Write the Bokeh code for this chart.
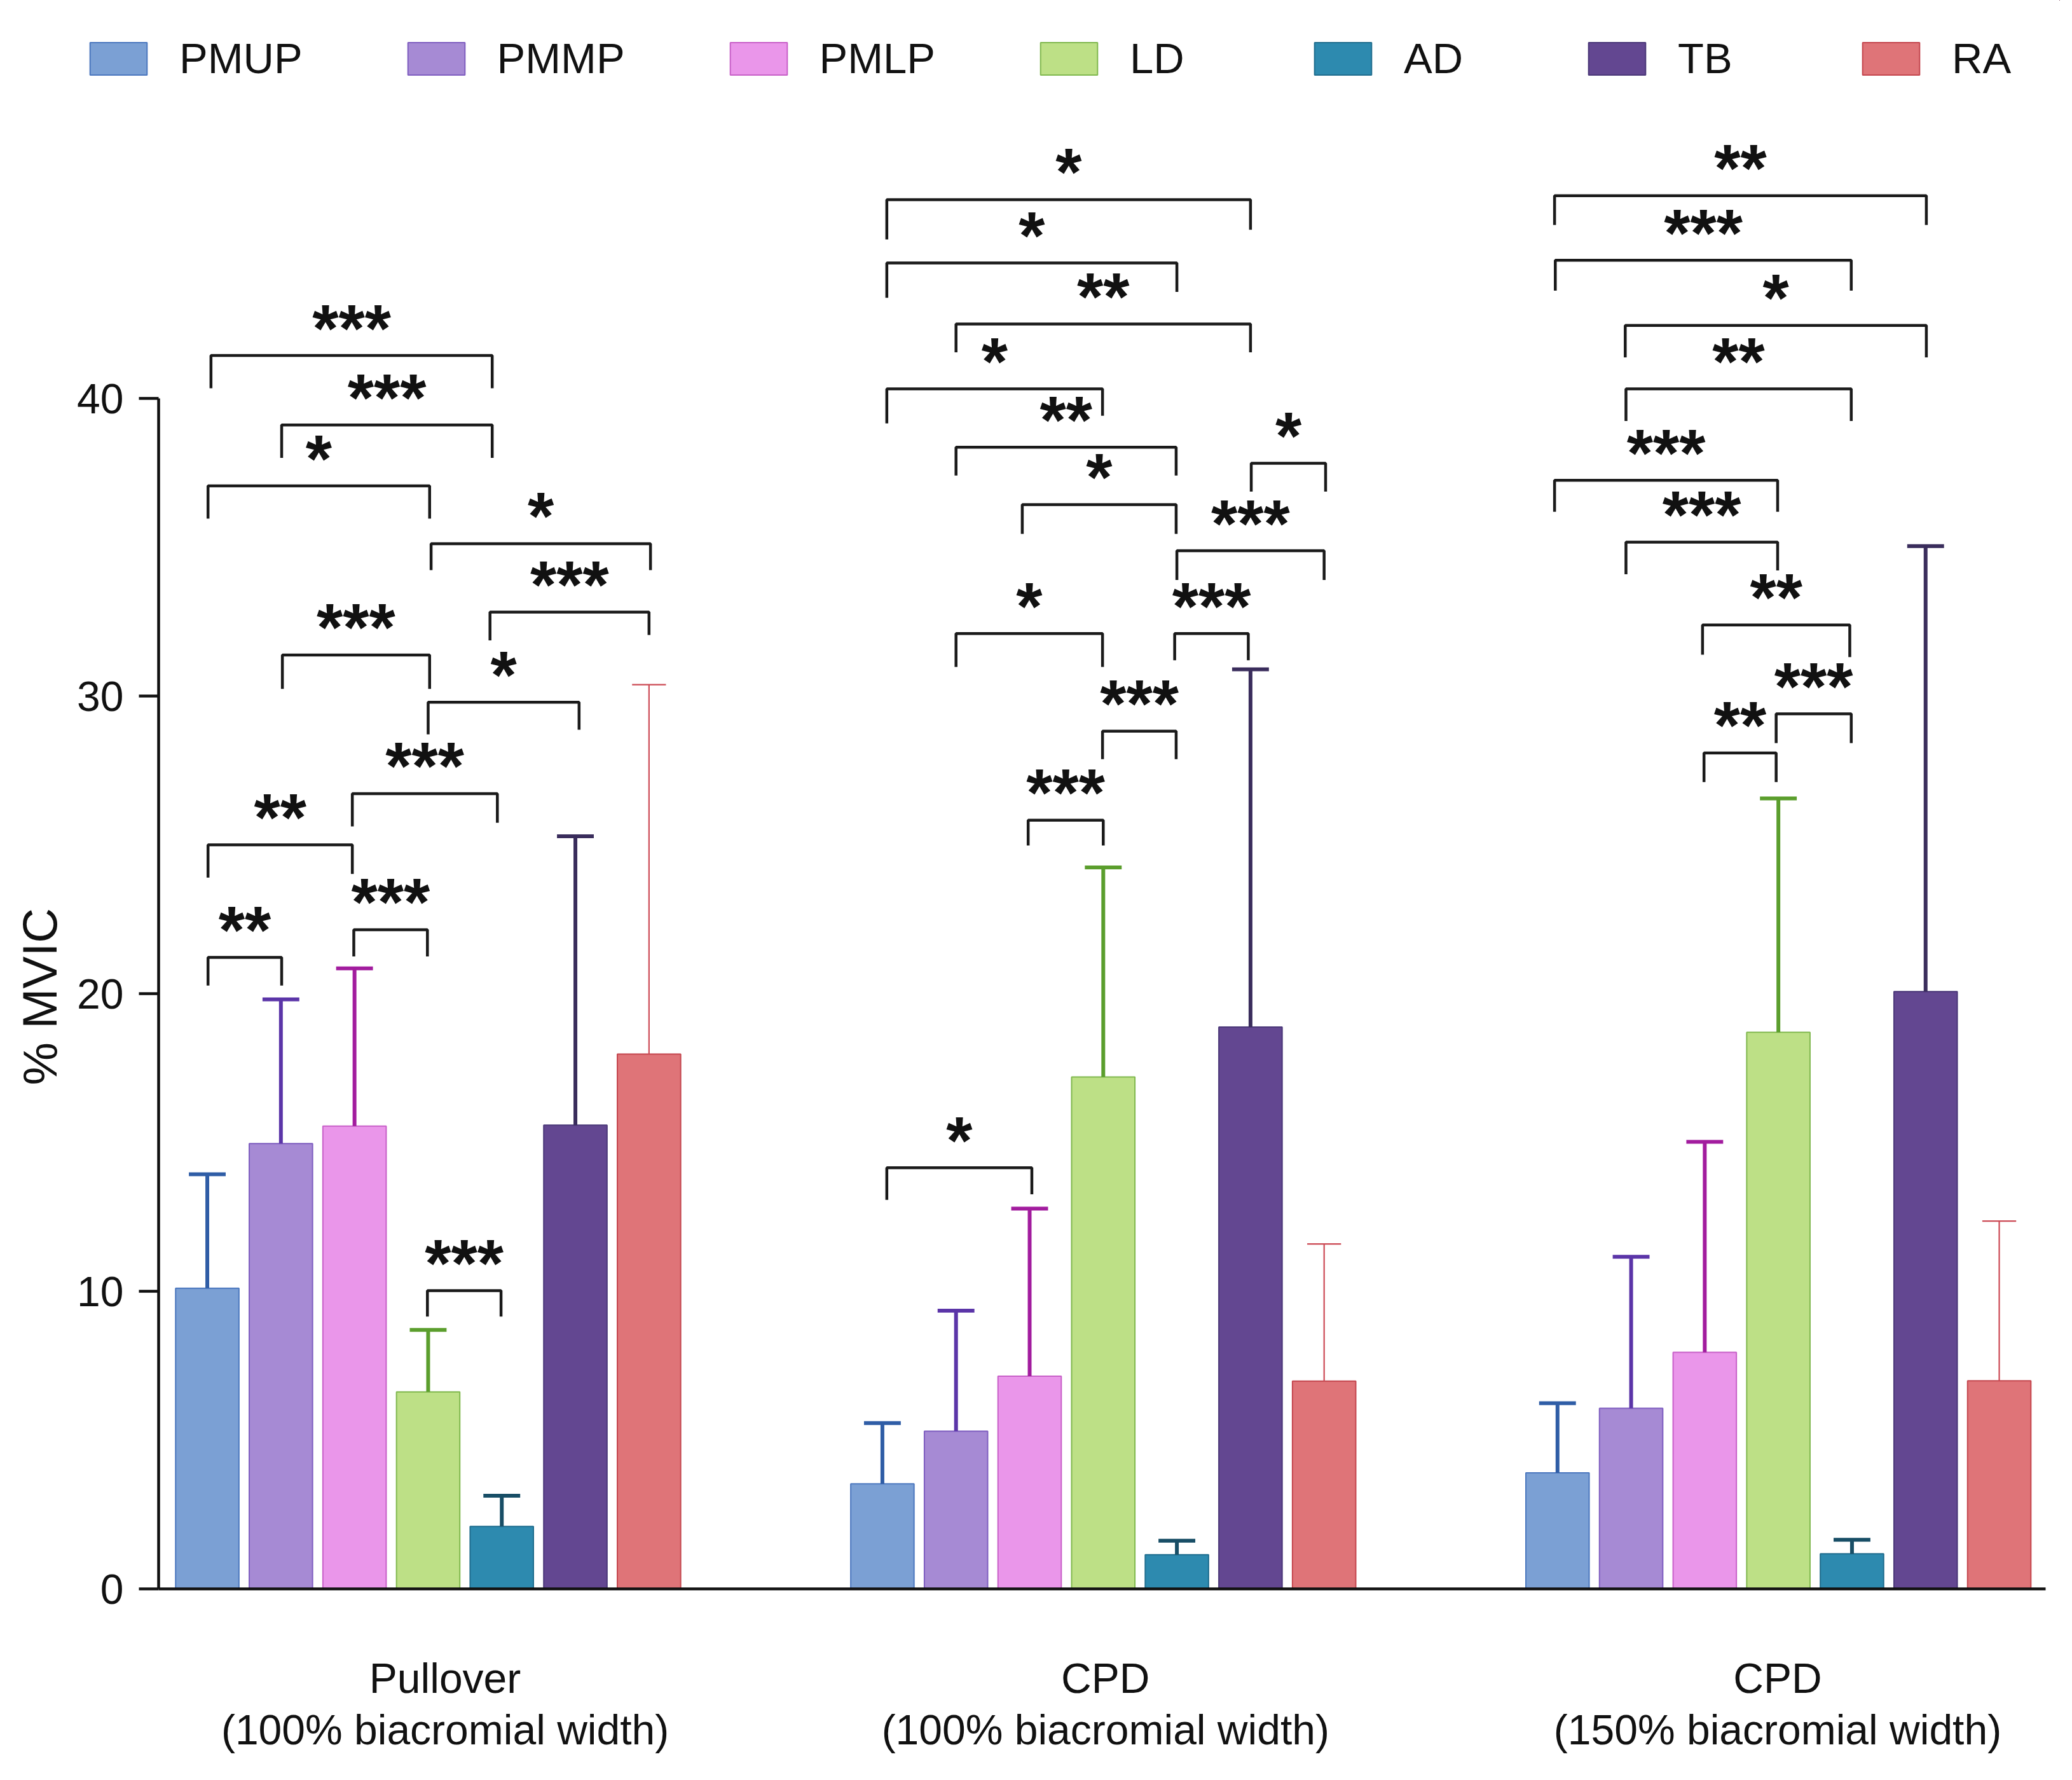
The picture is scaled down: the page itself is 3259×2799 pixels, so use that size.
from bokeh.plotting import figure
from bokeh.models import (Range1d, FixedTicker, Legend, LegendItem, ColumnDataSource,
                          LinearAxis, LabelSet, Title)
from bokeh.embed import file_html
from bokeh.resources import INLINE

# ---------------- data ----------------
muscles = ["PMUP", "PMMP", "PMLP", "LD", "AD", "TB", "RA"]
condition_names = ["Pullover", "CPD", "CPD"]
condition_widths = ["(100% biacromial width)", "(100% biacromial width)", "(150% biacromial width)"]

# mean %MVIC per muscle, one list per condition
mean_pullover = [10.10, 14.96, 15.55, 6.62, 2.10, 15.58, 17.97]
mean_cpd100 = [3.53, 5.30, 7.15, 17.20, 1.15, 18.88, 6.98]
mean_cpd150 = [3.90, 6.07, 7.95, 18.70, 1.18, 20.07, 6.99]

# standard deviation (upper error bar)
sd_pullover = [3.83, 4.85, 5.30, 2.08, 1.03, 9.71, 12.41]
sd_cpd100 = [2.04, 4.05, 5.63, 7.04, 0.47, 12.02, 4.61]
sd_cpd150 = [2.34, 5.09, 7.07, 7.86, 0.47, 14.97, 5.37]

# significance brackets: (left bar, right bar, level, left leg end, right leg end, stars)
# bar positions are indices 0..6 inside each condition
brackets_pullover = [
    (0.05, 3.87, 41.44, 40.34, 40.34, "***"),
    (1.01, 3.87, 39.11, 38.00, 38.00, "***"),
    (0.01, 3.02, 37.06, 35.96, 35.96, "*"),
    (3.04, 6.02, 35.12, 34.23, 34.23, "*"),
    (3.84, 6.00, 32.82, 31.87, 32.05, "***"),
    (1.02, 3.02, 31.38, 30.24, 30.24, "***"),
    (3.00, 5.05, 29.79, 28.71, 28.87, "*"),
    (1.97, 3.94, 26.72, 25.62, 25.74, "***"),
    (0.01, 1.97, 25.00, 23.90, 24.02, "**"),
    (1.99, 2.99, 22.15, 21.25, 21.25, "***"),
    (0.01, 1.01, 21.22, 20.27, 20.27, "**"),
    (2.99, 3.99, 10.02, 9.15, 9.15, "***"),
]
brackets_cpd100 = [
    (0.06, 5.00, 46.68, 45.34, 45.67, "*"),
    (0.06, 4.00, 44.55, 43.38, 43.58, "*"),
    (1.00, 5.00, 42.50, 41.55, 41.55, "**"),
    (0.06, 2.99, 40.32, 39.16, 39.42, "*"),
    (1.00, 3.99, 38.36, 37.41, 37.41, "**"),
    (1.90, 3.99, 36.43, 35.45, 35.45, "*"),
    (5.01, 6.02, 37.82, 36.87, 36.87, "*"),
    (4.00, 6.00, 34.88, 33.90, 33.90, "***"),
    (1.00, 2.99, 32.10, 30.98, 30.98, "*"),
    (3.97, 4.97, 32.10, 31.20, 31.20, "***"),
    (2.99, 3.99, 28.82, 27.88, 27.88, "***"),
    (1.98, 3.00, 25.83, 24.98, 24.98, "***"),
    (0.06, 2.03, 14.15, 13.07, 13.26, "*"),
]
brackets_cpd150 = [
    (-0.04, 5.01, 46.81, 45.83, 45.83, "**"),
    (-0.03, 3.99, 44.64, 43.62, 43.62, "***"),
    (0.92, 5.01, 42.45, 41.38, 41.38, "*"),
    (0.93, 3.99, 40.32, 39.24, 39.24, "**"),
    (-0.04, 2.99, 37.25, 36.19, 36.19, "***"),
    (0.93, 2.99, 35.17, 34.09, 34.22, "***"),
    (1.97, 3.97, 32.39, 31.39, 31.31, "**"),
    (2.97, 3.99, 29.40, 28.42, 28.42, "***"),
    (1.99, 2.97, 28.09, 27.11, 27.11, "**"),
]

y_ticks = [0, 10, 20, 30, 40]

# ---------------- styling ----------------
fills = ["#7BA0D4", "#A68AD4", "#EA96EA", "#BDE086", "#2D8AAF", "#634791", "#DF7478"]
edges = ["#4B77BE", "#7F5EC0", "#C860C8", "#80B84E", "#1F6D8E", "#4A3778", "#C4464E"]
errc = ["#2F5DA6", "#5B35A8", "#A21C9E", "#5B9E2D", "#184E66", "#3A2D5C", "#CC4A55"]
errw = [6, 6, 6, 6, 6, 6, 2.2]
caph = [0.25, 0.25, 0.25, 0.25, 0.25, 0.25, 0.23]
GROUP_STEP = 9.17
BAR_W = 0.86

means = [mean_pullover, mean_cpd100, mean_cpd150]
sds = [sd_pullover, sd_cpd100, sd_cpd150]
brackets = [brackets_pullover, brackets_cpd100, brackets_cpd150]

# one data source per muscle (shared by the chart and the legend strip)
sources = []
for i, m in enumerate(muscles):
    xs = [g * GROUP_STEP + i for g in range(3)]
    tops = [means[g][i] for g in range(3)]
    ups = [means[g][i] + sds[g][i] for g in range(3)]
    sources.append(ColumnDataSource(dict(x=xs, top=tops, up=ups,
                                         xl=[x - caph[i] for x in xs],
                                         xr=[x + caph[i] for x in xs])))

# ---------------- legend strip (top) ----------------
# its ranges lie far away from the data, so the bars themselves stay out of view here
lf = figure(width=3240, height=150, output_backend="svg", toolbar_location=None,
            x_range=Range1d(-1001, -1000), y_range=Range1d(-1001, -1000),
            x_axis_type=None, y_axis_type=None,
            min_border_left=0, min_border_right=0, min_border_top=0, min_border_bottom=0)
lf.outline_line_color = None
lf.background_fill_color = "white"
lf.border_fill_color = "white"

legend_items = []
for i, m in enumerate(muscles):
    key = lf.vbar(x="x", top="top", bottom=0, width=BAR_W, source=sources[i],
                  fill_color=fills[i], line_color=edges[i], line_width=2)
    legend_items.append(LegendItem(label=m, renderers=[key]))

legend = Legend(items=legend_items, orientation="horizontal", location=(130, 20),
                glyph_width=112, glyph_height=64, label_standoff=40, label_width=125,
                spacing=154, padding=0, margin=0, border_line_color=None,
                background_fill_alpha=0,
                label_text_font_size="67px", label_text_color="#111111")
lf.add_layout(legend)

# ---------------- main chart ----------------
p = figure(width=3240, height=2630, output_backend="svg", toolbar_location=None,
           x_range=Range1d(-0.661, 24.97), y_range=Range1d(0, 50),
           min_border_left=249, min_border_right=23, min_border_top=8,
           min_border_bottom=282)
p.background_fill_color = "white"
p.border_fill_color = "white"
p.outline_line_color = None
p.xgrid.visible = False
p.ygrid.visible = False

for i, m in enumerate(muscles):
    src = sources[i]
    p.vbar(x="x", top="top", bottom=0, width=BAR_W, source=src,
           fill_color=fills[i], line_color=edges[i], line_width=2)
    p.segment(x0="x", y0="top", x1="x", y1="up", source=src,
              line_color=errc[i], line_width=errw[i])
    p.segment(x0="xl", y0="up", x1="xr", y1="up", source=src,
              line_color=errc[i], line_width=errw[i])

bx, by, tx, ty, tt = [], [], [], [], []
for g, blist in enumerate(brackets):
    off = g * GROUP_STEP
    for (a, b, lvl, la, lb, star) in blist:
        bx.append([off + a, off + a, off + b, off + b])
        by.append([la, lvl, lvl, lb])
        tx.append(off + (a + b) / 2)
        ty.append(lvl - 0.33)
        tt.append(star)
p.multi_line(xs=bx, ys=by, line_color="#1a1a1a", line_width=4.5)
star_src = ColumnDataSource(dict(x=tx, y=ty, label=tt))
stars = LabelSet(x="x", y="y", text="label", source=star_src, text_align="center",
                 text_baseline="bottom", text_font_size="106px",
                 text_font_style="bold", text_color="#111111")
p.add_layout(stars)

# y axis
ya = p.yaxis[0]
ya.ticker = FixedTicker(ticks=y_ticks)
ya.bounds = (0, 40)
ya.axis_line_width = 4.5
ya.axis_line_color = "#111111"
ya.major_tick_line_width = 4.5
ya.major_tick_line_color = "#111111"
ya.major_tick_out = 31
ya.major_tick_in = 0
ya.minor_tick_line_color = None
ya.major_label_standoff = 24
ya.major_label_text_font_size = "66px"
ya.major_label_text_color = "#111111"

# y axis title, placed along the 0-40 part of the axis
ytitle = Title(text="% MVIC", align="left", offset=792, standoff=28,
               text_font_size="76px", text_font_style="normal", text_color="#111111")
p.add_layout(ytitle, "left")

# x axis: first line of condition labels
group_label_pos = [3.23, 12.2, 21.33]
xa = p.xaxis[0]
xa.ticker = FixedTicker(ticks=group_label_pos)
xa.major_label_overrides = {pos: lab for pos, lab in zip(group_label_pos, condition_names)}
xa.axis_line_width = 4.5
xa.axis_line_color = "#111111"
xa.major_tick_line_color = None
xa.minor_tick_line_color = None
xa.major_tick_out = 0
xa.major_tick_in = 0
xa.major_label_standoff = 103
xa.major_label_text_font_size = "66px"
xa.major_label_text_color = "#111111"

# second line of condition labels
xa2 = LinearAxis(ticker=FixedTicker(ticks=group_label_pos))
xa2.major_label_overrides = {pos: lab for pos, lab in zip(group_label_pos, condition_widths)}
xa2.axis_line_color = None
xa2.major_tick_line_color = None
xa2.minor_tick_line_color = None
xa2.major_tick_out = 0
xa2.major_tick_in = 0
xa2.major_label_standoff = 4
xa2.major_label_text_font_size = "66px"
xa2.major_label_text_color = "#111111"
p.add_layout(xa2, "below")

open("out.html", "w").write(file_html([lf, p], INLINE))
